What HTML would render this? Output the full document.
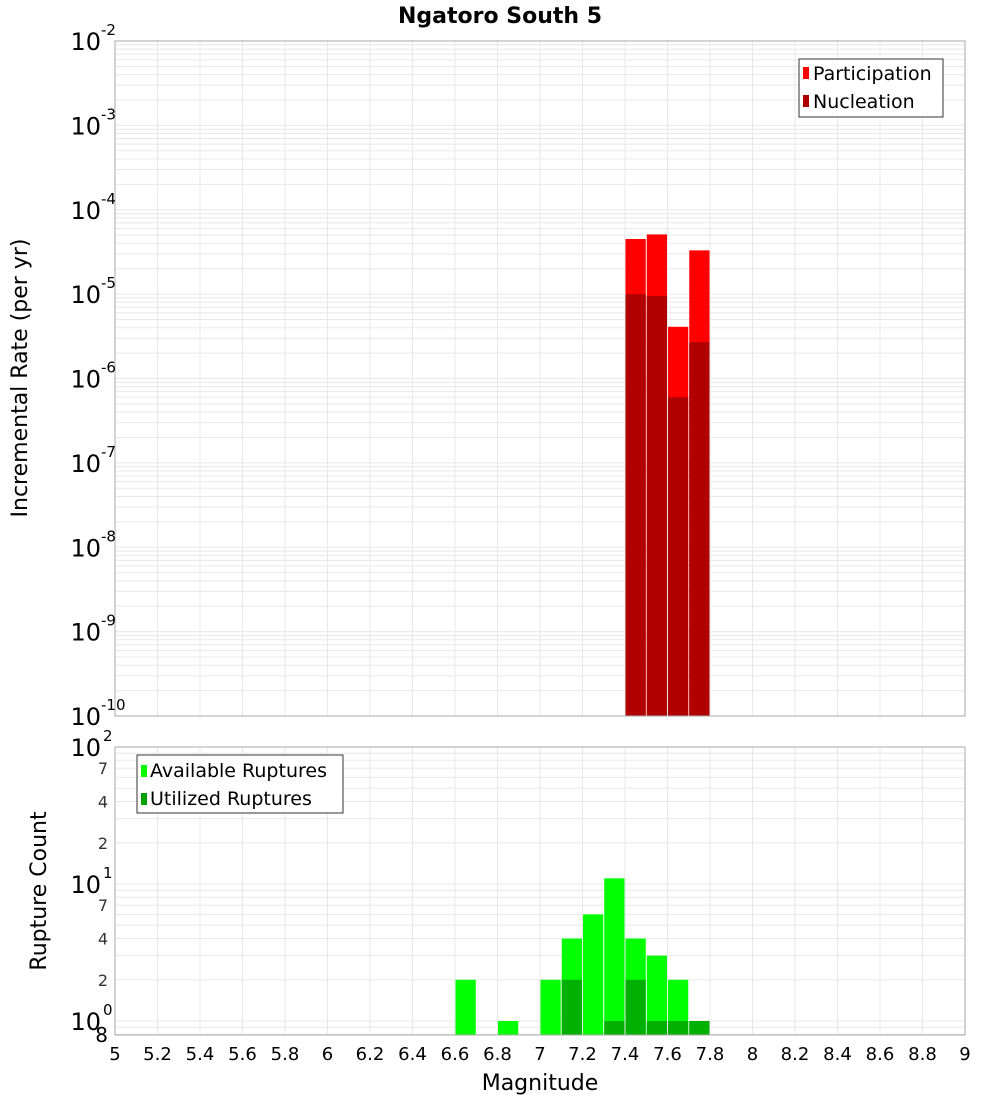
<!DOCTYPE html>
<html><head><meta charset="utf-8"><style>
body{margin:0;background:#fff;font-family:"Liberation Sans","DejaVu Sans",sans-serif}
svg text{font-family:"DejaVu Sans","Liberation Sans",sans-serif}
</style></head><body>
<svg id="c" width="1000" height="1100" xmlns="http://www.w3.org/2000/svg">
<text x="500" y="23" text-anchor="middle" font-size="22" font-weight="bold">Ngatoro South 5</text>
<g id="topPlot"></g>
<g id="botPlot"></g>
<text x="27" y="378" transform="rotate(-90 27 378)" text-anchor="middle" font-size="22">Incremental Rate (per yr)</text>
<text x="46" y="891" transform="rotate(-90 46 891)" text-anchor="middle" font-size="22">Rupture Count</text>
<text x="540" y="1090" text-anchor="middle" font-size="22">Magnitude</text>
<g id="legends">
<g>
<rect x="799" y="59" width="144" height="58" fill="#fff" stroke="#333" stroke-width="1"/>
<rect x="803" y="67" width="6" height="12" fill="#ff0000"/>
<text x="813" y="80" font-size="19">Participation</text>
<rect x="803" y="95" width="6" height="12" fill="#b00000"/>
<text x="813" y="108" font-size="19">Nucleation</text>
</g>
<g>
<rect x="137" y="755" width="206" height="58" fill="#fff" stroke="#333" stroke-width="1"/>
<rect x="141" y="765" width="6" height="12" fill="#00ff00"/>
<text x="150" y="777" font-size="19">Available Ruptures</text>
<rect x="141" y="793" width="6" height="12" fill="#00a000"/>
<text x="150" y="805" font-size="19">Utilized Ruptures</text>
</g>
</g>
</svg>
<script>
const magBins=[7.45,7.55,7.65,7.75];
const participation=[4.5e-5,5.1e-5,4.1e-6,3.3e-5];
const nucleation=[1.0e-5,9.5e-6,6e-7,2.7e-6];
const countBins=[6.65,6.85,7.05,7.15,7.25,7.35,7.45,7.55,7.65,7.75];
const available=[2,1,2,4,6,11,4,3,2,1];
const utilBins=[7.15,7.35,7.45,7.55,7.65,7.75];
const utilized=[2,1,2,1,1,1];
const xTicks=[5,5.2,5.4,5.6,5.8,6,6.2,6.4,6.6,6.8,7,7.2,7.4,7.6,7.8,8,8.2,8.4,8.6,8.8,9];
const rateExps=[-10,-9,-8,-7,-6,-5,-4,-3,-2];
const countMinor=[2,4,7];

const NS='http://www.w3.org/2000/svg';
const X0=115,X1=965;
const xs=m=>X0+(m-5)/4*(X1-X0);
const T0=41,T1=716;
const yT=v=>T1-(Math.log10(v)+10)/8*(T1-T0);
const B0=747,B1=1035,DEC=137;
const yB=v=>(B0+2*DEC)-Math.log10(v)*DEC;
function mk(p,tag,a){const e=document.createElementNS(NS,tag);for(const k in a)e.setAttribute(k,a[k]);p.appendChild(e);return e;}
const topG=document.getElementById('topPlot'),botG=document.getElementById('botPlot');
mk(topG,'rect',{x:X0,y:T0,width:X1-X0,height:T1-T0,fill:'#fff'});
mk(botG,'rect',{x:X0,y:B0,width:X1-X0,height:B1-B0,fill:'#fff'});
for(const t of xTicks){
 const g1=mk(topG,'line',{x1:xs(t),x2:xs(t),y1:T0,y2:T1,stroke:'#e8e8e8'});
 
 
 const g2=mk(botG,'line',{x1:xs(t),x2:xs(t),y1:B0,y2:B1,stroke:'#e8e8e8'});
 
 
}
for(let e=-10;e<-2;e++)for(let k=1;k<10;k++){const yy=yT(k*Math.pow(10,e));
 const l=mk(topG,'line',{x1:X0,x2:X1,y1:yy,y2:yy,stroke:'#e8e8e8'});
 
 }
for(const e of [-1,0,1])for(let k=1;k<10;k++){const v=k*Math.pow(10,e);const yy=yB(v);if(yy<B0||yy>B1)continue;
 const l=mk(botG,'line',{x1:X0,x2:X1,y1:yy,y2:yy,stroke:'#e8e8e8'});
 
 }
const bw=(xs(5.1)-xs(5));
magBins.forEach((m,i)=>{
 const r=mk(topG,'rect',{x:xs(m-0.05)+0.5,y:yT(participation[i]),width:bw-1,height:T1-yT(participation[i]),fill:'#ff0000'});
 
 
 const n=mk(topG,'rect',{x:xs(m-0.05)+0.5,y:yT(nucleation[i]),width:bw-1,height:T1-yT(nucleation[i]),fill:'#b00000'});
 
 
});
countBins.forEach((m,i)=>{
 const r=mk(botG,'rect',{x:xs(m-0.05)+0.5,y:yB(available[i]),width:bw-1,height:B1-yB(available[i]),fill:'#00ff00'});
 
 
});
utilBins.forEach((m,i)=>{
 const r=mk(botG,'rect',{x:xs(m-0.05)+0.5,y:yB(utilized[i]),width:bw-1,height:B1-yB(utilized[i]),fill:'#00b000'});
 
 
});
mk(topG,'rect',{x:X0,y:T0,width:X1-X0,height:T1-T0,fill:'none',stroke:'#aaa'});
mk(botG,'rect',{x:X0,y:B0,width:X1-X0,height:B1-B0,fill:'none',stroke:'#aaa'});
for(const e of rateExps){const yy=yT(Math.pow(10,e));
 const t=mk(topG,'text',{x:101,y:yy+9,'text-anchor':'end','font-size':24});t.textContent='10';
 
 
 const s=mk(topG,'text',{x:101,y:yy-6,'font-size':15});s.textContent=String(e);
 
 }
for(const e of [0,1,2]){const yy=yB(Math.pow(10,e));
 const t=mk(botG,'text',{x:101,y:yy+9,'text-anchor':'end','font-size':24});t.textContent='10';
 
 
 const s=mk(botG,'text',{x:103,y:yy-6,'font-size':15});s.textContent=String(e);
 
 }
for(const e of [0,1])for(const k of countMinor){const yy=yB(k*Math.pow(10,e));
 const t=mk(botG,'text',{x:108,y:yy+6,'text-anchor':'end','font-size':16,fill:'#333'});t.textContent=String(k);
 
 }
const e8=mk(botG,'text',{x:108,y:1042,'text-anchor':'end','font-size':20});e8.textContent='8';


for(const t of xTicks){const l=mk(botG,'text',{x:xs(t),y:1060,'text-anchor':'middle','font-size':18});l.textContent=String(t);
 
 }
document.getElementById('c').appendChild(document.getElementById('legends'));
</script>
</body></html>
